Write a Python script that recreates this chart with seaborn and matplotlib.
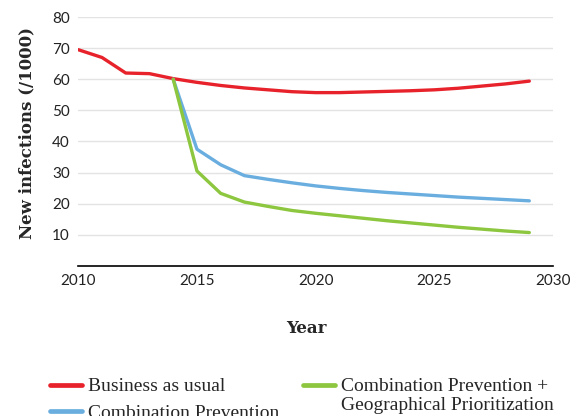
import numpy as np
import pandas as pd
import seaborn as sns
import matplotlib.pyplot as plt

# Values
years_bau = list(range(2010, 2030))
business_as_usual = [69.5, 67.0, 62.0, 61.8, 60.2, 59.0, 58.0, 57.2, 56.6, 56.0,
                     55.7, 55.7, 55.9, 56.1, 56.3, 56.6, 57.1, 57.8, 58.5, 59.4]
years_cp = list(range(2014, 2030))
combination_prevention = [60.0, 37.5, 32.5, 29.0, 27.8, 26.7, 25.7, 24.9, 24.2, 23.6,
                          23.1, 22.6, 22.1, 21.7, 21.3, 20.9]
combination_geo = [60.0, 30.5, 23.3, 20.5, 19.1, 17.8, 16.9, 16.1, 15.3, 14.5,
                   13.8, 13.1, 12.4, 11.8, 11.2, 10.7]

labels = ['Business as usual', 'Combination Prevention',
          'Combination Prevention +\nGeographical Prioritization']
colors = ['#E8222B', '#6AAEE0', '#8DC63F']

df = pd.concat([
    pd.DataFrame({'Year': years_bau, 'value': business_as_usual, 'scenario': labels[0]}),
    pd.DataFrame({'Year': years_cp, 'value': combination_prevention, 'scenario': labels[1]}),
    pd.DataFrame({'Year': years_cp, 'value': combination_geo, 'scenario': labels[2]}),
])

sns.set_style('white')
plt.rcParams['font.family'] = ['Lato', 'DejaVu Sans']

fig = plt.figure(figsize=(5.84, 4.16), dpi=100)
ax = fig.add_axes([0.134, 0.361, 0.813, 0.598])

sns.lineplot(data=df, x='Year', y='value', hue='scenario', hue_order=labels,
             palette=colors, linewidth=2.4, ax=ax, legend=False)

ax.set_xlim(2010, 2030)
ax.set_ylim(0, 80)
ax.set_xticks([2010, 2015, 2020, 2025, 2030])
ax.set_yticks(range(10, 90, 10))
ax.tick_params(axis='both', length=0, labelsize=11, colors='#222222', pad=6)
ax.yaxis.grid(True, color='#e3e3e3', linewidth=1)
for s in ['top', 'right', 'left']:
    ax.spines[s].set_visible(False)
ax.spines['bottom'].set_color('black')
ax.spines['bottom'].set_linewidth(1.2)

ax.set_xlabel('Year', fontsize=12, fontweight='bold', family='DejaVu Serif')
ax.xaxis.set_label_coords(0.48, -0.216)
ax.set_ylabel('New infections (/1000)', fontsize=12, fontweight='bold',
              family='DejaVu Serif')
ax.yaxis.set_label_coords(-0.09, 0.534)

# legend: green entry's second line sits below its first line like the reference
handles = [plt.Line2D([], [], color=c, linewidth=3.4) for c in colors]
leg_labels = [labels[0], labels[1], 'Combination Prevention +']
leg_font = {'family': 'Liberation Serif', 'size': 14}
leg = fig.legend(handles, leg_labels, loc='upper left', bbox_to_anchor=(0.055, 0.134),
                 ncol=2, frameon=False, handlelength=1.65, handletextpad=0.32,
                 columnspacing=1.2, labelspacing=0.45, prop=leg_font)

# line up the wrapped second line with the legend text above it
fig.canvas.draw()
bb = leg.get_texts()[2].get_window_extent()
x0 = fig.transFigure.inverted().transform((bb.x0, bb.y0))[0]
fig.text(x0, 1 - 405 / 416, 'Geographical Prioritization', va='center',
         ha='left', fontfamily='Liberation Serif', fontsize=14)

fig.savefig('out.png', dpi=100)
